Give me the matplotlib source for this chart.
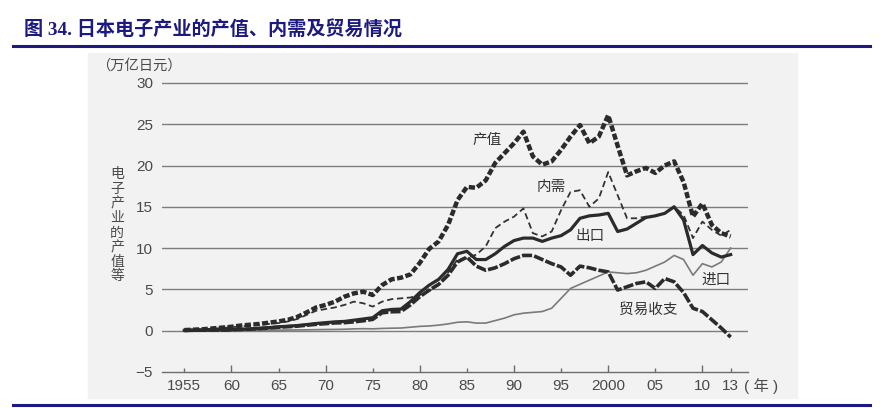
import numpy as np
import matplotlib
matplotlib.use('Agg')
import matplotlib.pyplot as plt
from matplotlib.patches import Rectangle
from matplotlib.lines import Line2D

# data (trillion yen)
years = np.arange(1955, 2014)

output = [0.05, 0.1, 0.15, 0.25, 0.35, 0.45, 0.6, 0.7, 0.8, 0.95,
          1.1, 1.3, 1.65, 2.2, 2.8, 3.1, 3.5, 4.1, 4.5, 4.7,
          4.3, 5.5, 6.2, 6.4, 6.8, 8.2, 9.9, 10.8, 12.8, 15.8,
          17.4, 17.3, 18.2, 20.3, 21.5, 22.7, 24.1, 21.1, 20.1, 20.5,
          21.9, 23.5, 24.9, 22.7, 23.5, 26.1, 22.4, 18.8, 19.3, 19.7,
          19.1, 20.0, 20.5, 18.0, 13.8, 15.4, 12.8, 11.8, 11.4]

domestic = [0.05, 0.1, 0.15, 0.22, 0.3, 0.4, 0.5, 0.6, 0.7, 0.8,
            0.9, 1.1, 1.4, 1.9, 2.4, 2.6, 2.8, 3.1, 3.5, 3.3,
            2.9, 3.5, 3.8, 3.9, 4.0, 4.3, 4.8, 5.5, 7.0, 8.6,
            8.8, 9.2, 10.2, 12.4, 13.2, 13.8, 14.8, 11.8, 11.4, 12.0,
            14.6, 16.8, 17.0, 15.0, 16.0, 19.2, 16.4, 13.6, 13.6, 13.8,
            13.9, 14.2, 15.0, 14.0, 11.2, 13.2, 12.2, 11.5, 12.2]

exports = [0.02, 0.03, 0.05, 0.06, 0.08, 0.1, 0.15, 0.2, 0.27, 0.35,
           0.45, 0.52, 0.6, 0.72, 0.85, 0.95, 1.05, 1.1, 1.25, 1.4,
           1.55, 2.4, 2.55, 2.6, 3.5, 4.6, 5.5, 6.2, 7.4, 9.3,
           9.6, 8.6, 8.6, 9.3, 10.2, 10.9, 11.2, 11.2, 10.8, 11.2,
           11.5, 12.2, 13.6, 13.9, 14.0, 14.2, 12.0, 12.3, 13.0, 13.7,
           13.9, 14.2, 15.0, 13.4, 9.2, 10.3, 9.4, 8.9, 9.2]

imports = [0.0, 0.0, 0.01, 0.01, 0.02, 0.02, 0.03, 0.03, 0.04, 0.05,
           0.05, 0.06, 0.07, 0.08, 0.1, 0.12, 0.13, 0.15, 0.2, 0.22,
           0.2, 0.25, 0.28, 0.3, 0.4, 0.5, 0.55, 0.65, 0.8, 1.0,
           1.05, 0.9, 0.9, 1.2, 1.5, 1.9, 2.1, 2.2, 2.3, 2.7,
           3.9, 5.1, 5.6, 6.1, 6.6, 7.1, 7.0, 6.9, 7.0, 7.3,
           7.8, 8.3, 9.1, 8.6, 6.7, 8.1, 7.7, 8.3, 10.0]

balance = [0.02, 0.03, 0.04, 0.05, 0.06, 0.08, 0.12, 0.17, 0.23, 0.3,
           0.4, 0.46, 0.53, 0.64, 0.75, 0.83, 0.92, 0.95, 1.05, 1.18,
           1.35, 2.15, 2.27, 2.3, 3.1, 4.1, 4.9, 5.6, 6.7, 8.3,
           8.9, 7.8, 7.3, 7.6, 8.1, 8.7, 9.1, 9.1, 8.6, 8.1,
           7.7, 6.7, 7.8, 7.6, 7.3, 7.1, 4.9, 5.3, 5.7, 5.9,
           5.1, 6.3, 5.9, 4.6, 2.7, 2.3, 1.3, 0.3, -0.8]

major_years = [1960, 1970, 1980, 1990, 2000, 2010]
major_labels = ['60', '70', '80', '90', '2000', '10']
minor_years = [1955, 1965, 1975, 1985, 1995, 2005, 2013]
minor_labels = ['1955', '65', '75', '85', '95', '05', '13']
y_ticks = [-5, 0, 5, 10, 15, 20, 25, 30]
y_labels = ['\u22125', '0', '5', '10', '15', '20', '25', '30']

plt.rcParams['font.family'] = ['Liberation Sans', 'Noto Sans CJK SC']

W, H = 883, 408
navy = '#1c1a80'
grey_txt = '#4a4a4a'


def fx(px):
    return px / W


def fy(py):
    return 1 - py / H


fig = plt.figure(figsize=(W / 100, H / 100), dpi=100)

# scanned page background
fig.add_artist(Rectangle((fx(88), fy(398)), fx(797) - fx(88), (398 - 53) / H,
                         transform=fig.transFigure, color='#f2f2f2', zorder=-10))

# header / footer rules
fig.add_artist(Line2D([fx(13), fx(870)], [fy(45.5), fy(45.5)], color=navy, lw=2.2))
fig.add_artist(Line2D([fx(13), fx(870)], [fy(404.5), fy(404.5)], color=navy, lw=2.2))

fig.text(fx(24), fy(30), '图 34. 日本电子产业的产值、内需及贸易情况', fontsize=13.8,
         fontweight='bold', color=navy, va='center', ha='left',
         family=['Liberation Serif', 'Noto Sans CJK SC'])

# axes: y=-5 at 371.75 px, y=31 at 74.75 px
ax = fig.add_axes([fx(162), fy(371.75), fx(748) - fx(162), (371.75 - 74.75) / H])
ax.set_facecolor('none')
ax.set_xlim(1952.63, 2014.84)
ax.set_ylim(-5, 31)

for v in y_ticks[1:]:
    ax.axhline(v, color='#7d7d7d', lw=1.0, zorder=1)

ax.plot(years, imports, color='#7a7a7a', lw=1.2, zorder=3)
ax.plot(years, domestic, color='#333333', lw=1.3, dashes=(3.5, 2.0), zorder=4)
ax.plot(years, exports, color='#2b2b2b', lw=2.3, zorder=5)
ax.plot(years, balance, color='#2b2b2b', lw=2.6, dashes=(2.8, 0.6), zorder=5)
ax.plot(years, output, color='#2b2b2b', lw=3.2, dashes=(1.4, 0.55), zorder=6)

# series labels
lab_kw = dict(fontsize=10.5, color='#333333', ha='center', va='center',
              family=['Noto Sans CJK SC'])
ax.text(1987.1, 23.1, '产值', **lab_kw)
ax.text(1994.0, 17.4, '内需', **lab_kw)
ax.text(1998.1, 11.4, '出口', **lab_kw)
ax.text(2011.5, 6.1, '进口', **lab_kw)
ax.text(2004.3, 2.5, '贸易收支', **lab_kw)

# spines and ticks
for s in ['top', 'right', 'left']:
    ax.spines[s].set_visible(False)
ax.spines['bottom'].set_color('#6d6d6d')
ax.spines['bottom'].set_linewidth(1.0)

ax.set_xticks(major_years, major_labels)
ax.set_xticks(minor_years, minor_labels, minor=True)
ax.tick_params(axis='x', which='major', direction='in', length=5, width=1,
               color='#6d6d6d', labelsize=11, labelcolor=grey_txt, pad=5)
ax.tick_params(axis='x', which='minor', direction='in', length=3, width=1,
               color='#6d6d6d', labelsize=11, labelcolor=grey_txt, pad=5)
ax.set_yticks(y_ticks, y_labels)
ax.tick_params(axis='y', length=0, labelsize=11, labelcolor=grey_txt, pad=6.5)

fig.text(fx(744), fy(386), '( 年 )', fontsize=11, color=grey_txt,
         ha='left', va='center')
fig.text(fx(96), fy(66), '（万亿日元）', fontsize=10.3, color=grey_txt,
         ha='left', va='center', family=['Noto Sans CJK SC'])

# vertical axis title, one character per line
for k, ch in enumerate('电子产业的产值等'):
    fig.text(fx(117), fy(174 + k * 14.6), ch, fontsize=10, color=grey_txt,
             ha='center', va='center', family=['Noto Sans CJK SC'])

fig.savefig('out.png', dpi=100)
